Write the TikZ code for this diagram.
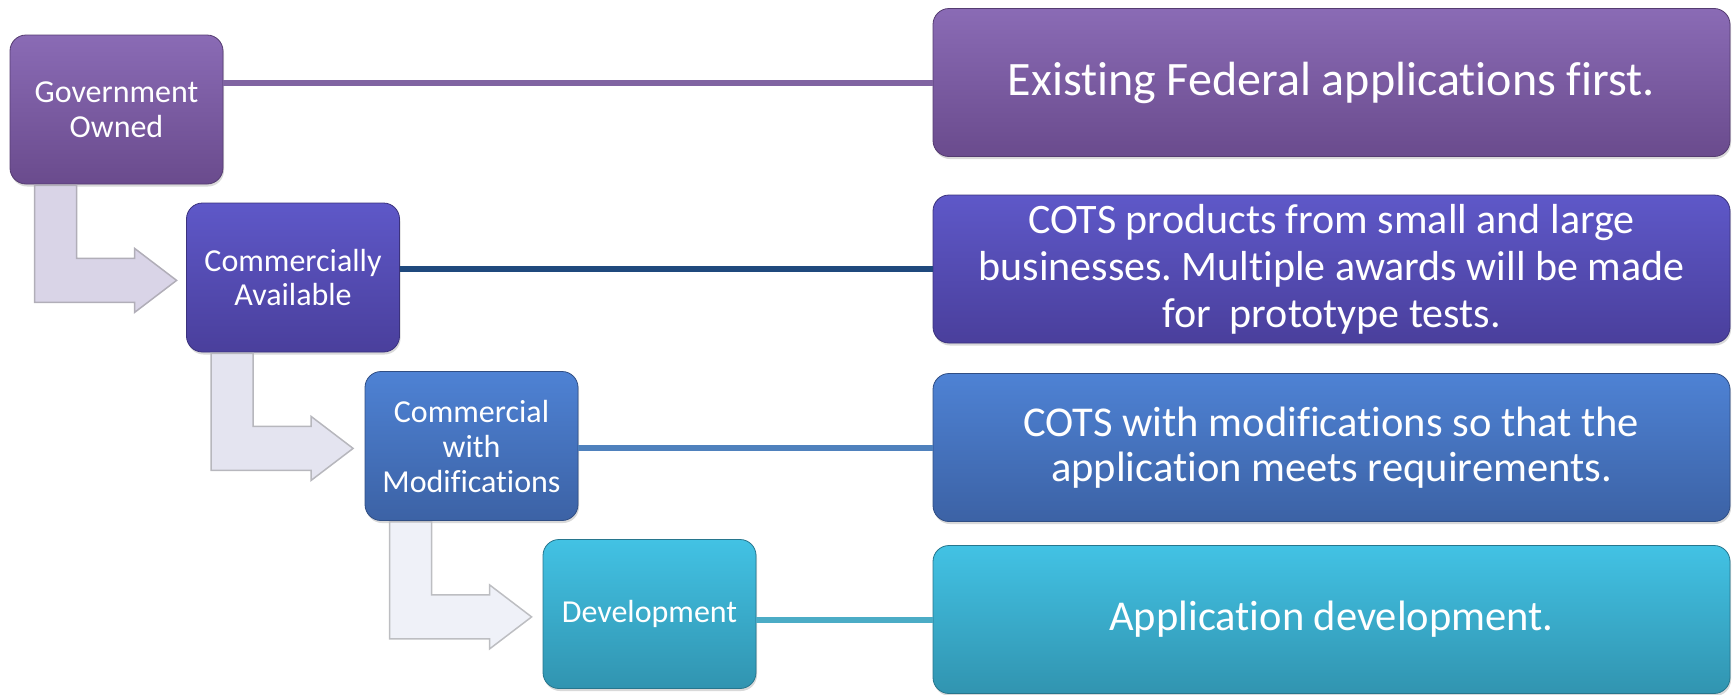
\documentclass[tikz,border=0pt]{standalone}
\usepackage{fontspec}
\setmainfont[Ligatures={NoCommon}]{Carlito}
\frenchspacing
\usetikzlibrary{calc,shadows}
\definecolor{purpTop}{HTML}{8A6BB5}
\definecolor{purpBot}{HTML}{6A4B8D}
\definecolor{indiTop}{HTML}{5E58C8}
\definecolor{indiBot}{HTML}{4A3F9C}
\definecolor{bluTop}{HTML}{4E82D4}
\definecolor{bluBot}{HTML}{3C62A5}
\definecolor{aquaTop}{HTML}{42C2E4}
\definecolor{aquaBot}{HTML}{3194B0}
\definecolor{purpLine}{HTML}{8064A2}
\definecolor{navyLine}{HTML}{1F497D}
\definecolor{bluLine}{HTML}{4F81BD}
\definecolor{aquaLine}{HTML}{4BACC6}
\definecolor{arrowA}{HTML}{D9D4E7}
\definecolor{arrowB}{HTML}{E4E4F0}
\definecolor{arrowC}{HTML}{EFF1F8}
\begin{document}
\begin{tikzpicture}
[x=1pt,y=-1pt,
  stepDecorate/.style={shape=rectangle,rounded corners=16pt,top color=#1Top,bottom color=#1Bot,
    draw=#1Bot!80!black,line width=0.8pt,text=white,align=center,inner sep=4pt,
    minimum width=213pt,minimum height=149pt,font=\fontsize{32}{35}\selectfont,
    drop shadow={opacity=0.3,shadow xshift=1pt,shadow yshift=-2.5pt}},
  noteDecorate/.style={stepDecorate=#1,minimum width=797pt,minimum height=148pt},
  lineDecorate/.style={-,line width=6pt},
  arrowDecorate/.style={fill=#1,draw=#1!55!gray,line width=1.5pt,line join=miter}]
\useasboundingbox (0,0) rectangle (1736,694);
%% steps on the left
\foreach \nodename/\x/\y/\col/\txt in {
  gov/116.5/109.5/purp/{Government\\Owned},
  com/293/277.5/indi/{Commercially\\Available},
  mod/471.5/446/blu/{Commercial\\with\\Modifications},
  dev/649.5/614/aqua/{Development}}
{
  \node (\nodename) at (\x,\y) [stepDecorate=\col] {\txt};
}
%% notes on the right
\foreach \nodename/\y/\col/\fs/\ls/\txt in {
  fed/82.5/purp/48/55/{Existing Federal applications first.},
  cots/269/indi/42/47/{COTS products from small and large\\businesses. Multiple awards will be made\\for~ prototype tests.},
  modreq/447.5/blu/42.5/45/{COTS with modifications so that the\\application meets requirements.},
  appdev/619.5/aqua/42.5/45/{Application development.}}
{
  \node (\nodename) at (1331.5,\y) [noteDecorate=\col,font=\fontsize{\fs}{\ls}\selectfont] {\txt};
}
%% bent arrows between steps
\foreach \upper/\shade in {gov/arrowA, com/arrowB, mod/arrowC}
{
  \filldraw[arrowDecorate=\shade] ($(\upper.south west)+(25,1)$) -- ++(0,117) -- ++(100,0)
    -- ++(0,10) -- ++(42,-32) -- ++(-42,-32) -- ++(0,10) -- ++(-58,0) -- ++(0,-73) -- cycle;
}
%% lines from steps to notes
\path
\foreach \startnode/\endnode/\col in {
  gov/fed/purpLine, com/cots/navyLine, mod/modreq/bluLine, dev/appdev/aquaLine}
{
  (\endnode.west -| \startnode.east) edge[lineDecorate,draw=\col] (\endnode.west)
};
\end{tikzpicture}
\end{document}
